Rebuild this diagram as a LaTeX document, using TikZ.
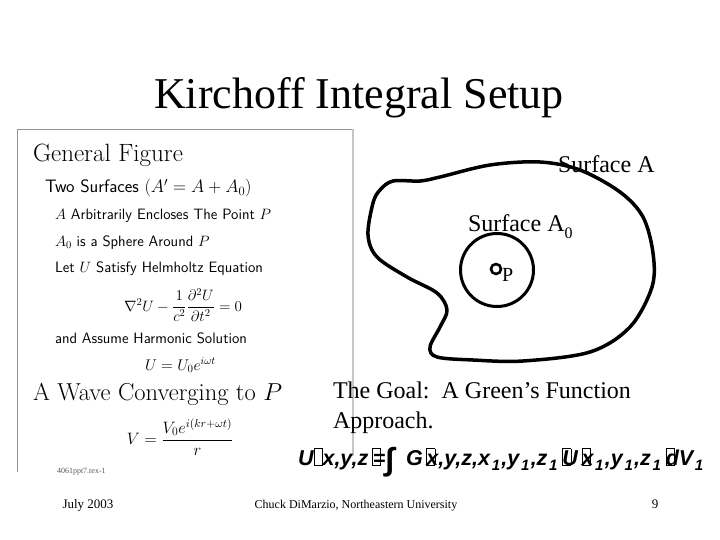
\RequirePackage{fix-cm}
\documentclass[tikz,border=0pt]{standalone}
\usepackage{amsmath}
\usepackage{fontspec}
\newfontfamily\tnr{Liberation Serif}
\newfontfamily\arl{Liberation Sans}
\newcommand{\fsz}[1]{\fontsize{#1}{#1}\selectfont}
\newcommand{\gbx}{{\fboxsep=0pt\fboxrule=0.7pt\framebox[0.42em]{\rule{0pt}{0.74em}}}}
\newcommand{\gbo}[1]{\rlap{\gbx}#1}
\newcommand{\sone}{\kern0.08em\raisebox{-0.25em}{\fsz{15}1}\kern0.06em}
\tikzset{
  every node/.style={inner sep=0pt, outer sep=0pt},
  ttl/.style={font=\tnr\fsz{44}, anchor=base},
  tm/.style={font=\tnr\fsz{24}, anchor=base west},
  hd/.style={font=\rmfamily\fsz{24.5}, anchor=base west},
  it1/.style={font=\sffamily\fsz{18}, anchor=base west},
  it2/.style={font=\sffamily\fsz{15}, anchor=base west},
  eq/.style={font=\fsz{15}},
  foot/.style={font=\tnr\fsz{13}, anchor=base},
  frame/.style={draw=gray!85, line width=0.9pt},
  surf/.style={draw=black, line width=3.5pt, line join=round},
}
\begin{document}
\begin{tikzpicture}[x=1pt,y=-1pt]
\useasboundingbox (0,0) rectangle (720,540);
% title
\node[ttl] (title) at (359,109) {Kirchoff Integral Setup};
% left panel frame
\coordinate (fbl) at (17,472);
\coordinate (ftl) at (17,129);
\coordinate (ftr) at (353,129);
\coordinate (fbr) at (353,456);
\draw[frame] (fbl) -- (ftl) -- (ftr);
\draw[draw=gray!45, line width=1.8pt] (ftr) -- (fbr);
% left panel text
\node[hd, font=\rmfamily\fsz{25}] (gf) at (33,162) {General Figure};
\node[it1] (ts) at (45,193) {Two Surfaces $(A' = A + A_0)$};
\node[it2] (ae) at (55,219) {$A$ Arbitrarily Encloses The Point $P$};
\node[it2] (a0) at (55,246) {$A_0$ is a Sphere Around $P$};
\node[it2] (lu) at (55,272) {Let $U$ Satisfy Helmholtz Equation};
\node[eq] (helm) at (183,305) {$\nabla^2 U - \dfrac{1}{c^2}\dfrac{\partial^2 U}{\partial t^2} = 0$};
\node[it2] (ah) at (55,343) {and Assume Harmonic Solution};
\node[eq, anchor=base west, font=\fsz{15.5}] (harm) at (145,370) {$U = U_0 e^{i\omega t}$};
\node[hd] (wave) at (33,400) {A Wave Converging to $P$};
\node[eq, font=\fsz{16.5}] (vw) at (180,437) {$V = \dfrac{V_0 e^{i(kr+\omega t)}}{r}$};
\node[font=\tnr\fsz{8}, anchor=base west, text=gray!70!black] (tex) at (57,473) {4061ppt7.tex-1};
% surface A
\draw[surf] plot[smooth cycle, tension=0.55] coordinates {
 (540,162) (580,170) (620,192) (643,217) (653,253) (652,287) (630,327)
 (590,352) (523,361) (473,360) (437,357) (430,347) (440,327) (447,310)
 (437,293) (407,277) (377,257) (368,235) (373,203) (380,190) (393,181)
 (420,181) (440,177) (490,165)};
% surface A0
\node[draw, circle, line width=3pt, minimum size=73pt] (a0c) at (497,270) {};
\node[draw, circle, line width=2.6pt, minimum size=10pt] (pt) at (496,269) {};
\node[font=\tnr\fsz{20}, anchor=base west] (plab) at (502,281) {P};
\node[tm] (sa) at (558,173) {Surface A};
\node[tm] (sa0) at (468,232) {Surface A\raisebox{-0.25em}{\fsz{16}0}};
% goal text
\node[tm] (goal) at (333,398) {The Goal:\ \ A Green’s Function};
\node[tm] (appr) at (333,428) {Approach.};
\node[font=\arl\bfseries\itshape\fsz{21.5}, anchor=base west] (formula) at (298,465)
 {U\gbx x,y,z\,\gbx\kern-0.38em=\raisebox{-0.25em}{\fsz{32}∫}\ \ G\,\gbo{x},y,z,x\sone,y\sone,z\sone\,\gbo{U}\,\gbo{x}\sone,y\sone,z\sone\,\gbo{d}V\sone};
% footer
\node[foot] (date) at (88,508) {July 2003};
\node[foot, font=\tnr\fsz{12}] (auth) at (356,508) {Chuck DiMarzio, Northeastern University};
\node[foot] (page) at (655,508) {9};
\end{tikzpicture}
\end{document}
